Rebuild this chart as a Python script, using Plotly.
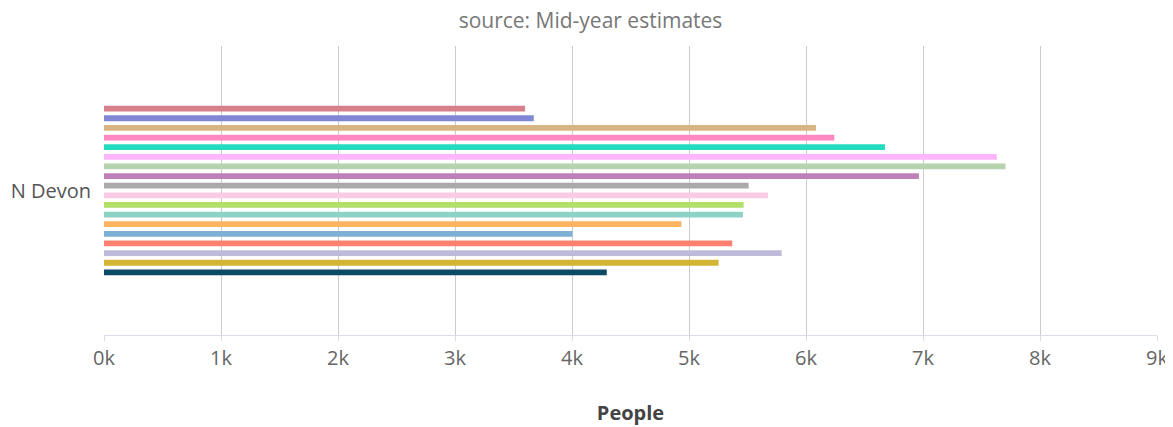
import plotly.graph_objects as go

category = ["N Devon"]
# series listed bottom-to-top as drawn
series_values = [4297, 5253, 5792, 5370, 4004, 4935, 5461, 5467, 5675, 5510,
                 6965, 7705, 7631, 6675, 6242, 6085, 3673, 3599]
series_colors = ["#0a4a64", "#d4b434", "#bebada", "#fe8070", "#7eb0d6", "#fcb462",
                 "#8ed2c6", "#b2de6a", "#facce4", "#aaaaaa", "#be80ba", "#b6d2ae",
                 "#ffb6ff", "#22dcc0", "#ff88c4", "#d8b482", "#8088d6", "#d6808a"]
tick_vals = [0, 1000, 2000, 3000, 4000, 5000, 6000, 7000, 8000, 9000]
tick_text = ["0k", "1k", "2k", "3k", "4k", "5k", "6k", "7k", "8k", "9k"]

fig = go.Figure()
for i, (v, c) in enumerate(zip(series_values, series_colors)):
    fig.add_trace(go.Bar(
        y=category, x=[v], orientation="h", name=f"Series {i+1}",
        marker=dict(color=c, line=dict(width=0)),
    ))

fig.update_layout(
    width=1165, height=419,
    barmode="group", bargap=0.4, bargroupgap=0.4,
    showlegend=False,
    plot_bgcolor="white", paper_bgcolor="white",
    margin=dict(l=96, r=16, t=38, b=92, autoexpand=False),
    font=dict(family="Open Sans", color="#666666"),
    title=dict(text="source: Mid-year estimates", x=0.5, xanchor="center",
               yref="container", y=0.97, yanchor="middle",
               font=dict(size=21, color="#777777", family="Open Sans")),
    xaxis=dict(
        range=[0, 9000], tickvals=tick_vals, ticktext=tick_text,
        showgrid=True, gridcolor="#cccccc", gridwidth=1,
        showline=True, linecolor="#d8dde6", linewidth=1,
        ticks="outside", ticklen=5, tickcolor="#d8dde6",
        tickfont=dict(size=20, color="#666666"),
        zeroline=False, automargin=False,
        title=dict(text="<b>People</b>", font=dict(size=20, color="#444444"), standoff=35),
    ),
    yaxis=dict(
        tickfont=dict(size=20, color="#555555"),
        showgrid=False, zeroline=False, showline=False,
        ticks="", ticklabelstandoff=12, automargin=False,
    ),
)

fig.write_html("out.html")
